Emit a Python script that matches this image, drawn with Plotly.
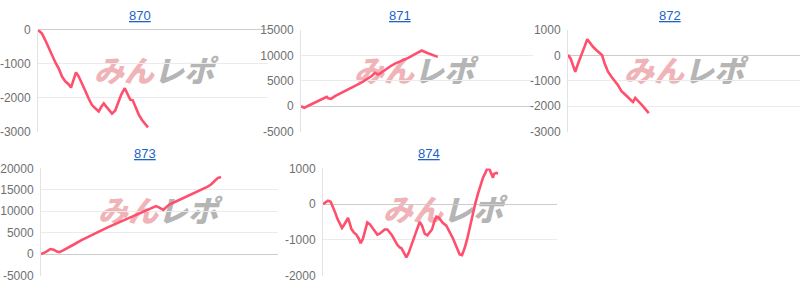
import plotly.graph_objects as go

# ---------------- data ----------------
titles = ["870", "871", "872", "873", "874"]

games_870 = [0,160,290,430,560,690,830,960,1090,1230,1320,1430,1520,1630,1760,1890,2030,2160,2290,2430,2520,2630,2730,2830,2960,3090,3200,3330,3470,3600,3690,3790,3890,4030,4160,4290,4400]
diff_870 = [0,-112,-300,-533,-766,-953,-1140,-1374,-1514,-1607,-1700,-1420,-1252,-1374,-1560,-1794,-2028,-2215,-2308,-2402,-2280,-2168,-2262,-2355,-2467,-2374,-2168,-1906,-1719,-1934,-2056,-2075,-2262,-2495,-2654,-2776,-2870]

games_871 = [0,130,290,490,690,890,1030,1090,1200,1360,1630,1890,2160,2430,2690,2830,2960,3070,3200,3360,3560,3760,4030,4290,4560,4830,5030,5230,5470]
diff_871 = [0,-300,100,600,1060,1500,1870,1560,1450,2000,2620,3370,4000,4690,5500,5940,6560,6250,6560,7190,7810,8370,8870,9500,10250,10940,10500,10120,9700]

games_872 = [0,110,200,290,400,530,670,770,870,1000,1130,1270,1360,1470,1600,1730,1870,2000,2130,2270,2400,2530,2600,2690,2800,2930,3070,3230]
diff_872 = [20,-142,-393,-644,-331,46,360,630,485,335,209,84,9,-331,-644,-832,-995,-1170,-1396,-1546,-1646,-1771,-1833,-1670,-1771,-1921,-2084,-2265]

games_873 = [0,200,373,507,640,733,867,1067,1333,1600,1867,2133,2400,2667,2933,3200,3467,3733,4000,4267,4467,4600,4733,4893,5000,5133,5333,5600,5867,6133,6400,6667,6800,6933,7067,7200]
diff_873 = [0,520,1187,1040,594,445,816,1410,2300,3190,4007,4750,5490,6233,6900,7570,8310,9050,9720,10310,10830,11200,10830,10310,10900,11575,12095,12840,13580,14250,14914,15730,16250,16990,17730,18000]

games_874 = [0,93,200,307,400,493,573,667,760,840,933,1000,1067,1133,1240,1333,1427,1507,1600,1693,1773,1867,1960,2067,2173,2267,2360,2467,2573,2667,2760,2867,2973,3067,3133,3240,3333,3427,3533,3667,3773,3867,3960,4067,4173,4267,4360,4440,4533,4627,4707,4800,4933,5067,5200,5333,5467,5560,5667,5773,5880,6000,6093,6200,6307,6400,6493,6573,6667,6733,6800,6840,6933,7000]
diff_874 = [0,41,95,68,-66,-245,-406,-559,-666,-585,-442,-389,-532,-693,-800,-854,-962,-1096,-962,-693,-514,-559,-648,-738,-854,-827,-764,-711,-711,-782,-872,-1006,-1141,-1212,-1230,-1364,-1490,-1364,-1141,-872,-693,-496,-603,-827,-872,-800,-711,-514,-353,-380,-442,-532,-603,-764,-962,-1186,-1409,-1430,-1230,-962,-604,-246,23,292,560,739,874,1000,963,829,739,847,874,860]

tickvals_870 = [-3000, -2000, -1000, 0]
ticktext_870 = ["-3000", "-2000", "-1000", "0"]
tickvals_871 = [-5000, 0, 5000, 10000, 15000]
ticktext_871 = ["-5000", "0", "5000", "10000", "15000"]
tickvals_872 = [-3000, -2000, -1000, 0, 1000]
ticktext_872 = ["-3000", "-2000", "-1000", "0", "1000"]
tickvals_873 = [-5000, 0, 5000, 10000, 15000, 20000]
ticktext_873 = ["-5000", "0", "5000", "10000", "15000", "20000"]
tickvals_874 = [-2000, -1000, 0, 1000]
ticktext_874 = ["-2000", "-1000", "0", "1000"]

watermark_text = ["みん", "レポ"]

# ---------------- layout / style ----------------
W, H = 800, 293
LINE_COLOR = "#ff4f6d"
GRID = "#ebebeb"
ZERO = "#cccccc"
TICK_COLOR = "#707070"
TITLE_COLOR = "#1c64c8"
PINK = "#f0b3b8"
GREY = "#b5b5b5"

panels = [
    dict(games=games_870, diff=diff_870, tv=tickvals_870, tt=ticktext_870,
         px=(38, 268), py=(24, 131), title_xy=(140, 9), wm=(154, 70.5)),
    dict(games=games_871, diff=diff_871, tv=tickvals_871, tt=ticktext_871,
         px=(301, 533), py=(24, 131), title_xy=(400, 9), wm=(414, 71)),
    dict(games=games_872, diff=diff_872, tv=tickvals_872, tt=ticktext_872,
         px=(568, 800), py=(24, 131), title_xy=(670, 9), wm=(684, 71)),
    dict(games=games_873, diff=diff_873, tv=tickvals_873, tt=ticktext_873,
         px=(41, 278), py=(169.5, 282), title_xy=(145, 154), wm=(158, 217.5)),
    dict(games=games_874, diff=diff_874, tv=tickvals_874, tt=ticktext_874,
         px=(323, 557), py=(169.5, 282), title_xy=(429, 154), wm=(443, 217)),
]
GAMES_PER_PX = 40

fig = go.Figure()

# watermark layer (drawn first, underneath data subplots)
wm_x = [p["wm"][0] for p in panels]
wm_y = [p["wm"][1] for p in panels]
wm_label = (f'<span style="color:{PINK}">{watermark_text[0]}</span>'
            f'<span style="color:{GREY}">{watermark_text[1]}</span>')
fig.add_trace(go.Scatter(
    x=wm_x, y=wm_y, mode="text", text=[wm_label] * len(panels),
    textposition="middle center",
    textfont=dict(family="Noto Sans CJK JP", size=30, color=PINK,
                  weight=900, style="italic"),
    hoverinfo="skip", showlegend=False, xaxis="x", yaxis="y"))

layout = dict(
    width=W, height=H, margin=dict(l=0, r=0, t=0, b=0),
    paper_bgcolor="white", plot_bgcolor="rgba(0,0,0,0)",
    showlegend=False,
    xaxis=dict(domain=[0, 1], range=[0, W], visible=False, fixedrange=True),
    yaxis=dict(domain=[0, 1], range=[H, 0], visible=False, fixedrange=True),
    annotations=[],
)

for i, p in enumerate(panels):
    n = i + 2
    xa, ya = f"x{n}", f"y{n}"
    fig.add_trace(go.Scatter(
        x=p["games"], y=p["diff"], mode="lines",
        line=dict(color=LINE_COLOR, width=2.6),
        hoverinfo="skip", showlegend=False, xaxis=xa, yaxis=ya))
    x0, x1 = p["px"]
    y0, y1 = p["py"]
    layout[f"xaxis{n}"] = dict(
        domain=[x0 / W, x1 / W], range=[0, (x1 - x0) * GAMES_PER_PX],
        visible=False, anchor=ya, fixedrange=True)
    layout[f"yaxis{n}"] = dict(
        domain=[(H - y1) / H, (H - y0) / H],
        range=[min(p["tv"]), max(p["tv"])],
        tickvals=p["tv"], ticktext=p["tt"],
        showgrid=True, gridcolor=GRID, gridwidth=1,
        zeroline=True, zerolinecolor=ZERO, zerolinewidth=1,
        showline=True, linecolor="#e3e3e3", linewidth=1,
        ticks="", ticklabelstandoff=4,
        tickfont=dict(family="Arial, Liberation Sans", size=12, color=TICK_COLOR),
        anchor=xa, fixedrange=True)
    tx, ty = p["title_xy"]
    layout["annotations"].append(dict(
        text=f"<u>{titles[i]}</u>", x=tx / W, y=(H - ty) / H,
        xref="paper", yref="paper", xanchor="center", yanchor="middle",
        showarrow=False,
        font=dict(family="Arial, Liberation Sans", size=13, color=TITLE_COLOR)))

fig.update_layout(**layout)
fig.write_html("out.html")
